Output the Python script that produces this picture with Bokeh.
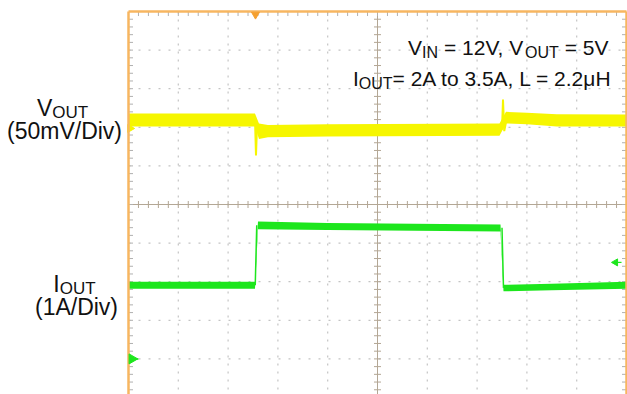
import numpy as np
from bokeh.plotting import figure
from bokeh.models import Range1d
from bokeh.core.properties import value
from bokeh.embed import file_html
from bokeh.resources import INLINE

# ---------------- data ----------------
# time axis in screen divisions (10 div across)
vout_t = [0.0, 2.54, 2.62, 2.80, 4.00, 7.45, 7.58, 8.00, 8.60, 10.0]
vout_hi_mv = [19.5, 19.5, 6.5, 4.5, 5.5, 6.5, 21.5, 20.5, 18.5, 18.0]   # mV, AC deviation
vout_lo_mv = [2.5, 2.5, -13.5, -11.5, -10.5, -9.5, 6.5, 5.5, 2.5, 2.5]
vout_edge1_t = [2.54, 2.56, 2.58, 2.62]
vout_edge1_mv = [11.5, -35.0, 1.5, -3.5]
vout_edge2_t = [7.50, 7.52, 7.545, 7.60]
vout_edge2_mv = [-1.5, 37.5, -3.5, 14.0]

iout_t = [0.0, 2.54, 2.60, 4.00, 7.47, 7.53, 8.50, 10.0]
iout_hi_a = [2.00, 2.00, 3.56, 3.52, 3.48, 1.92, 1.95, 2.00]
iout_lo_a = [1.82, 1.82, 3.36, 3.34, 3.30, 1.75, 1.78, 1.82]
iout_edge_t = [2.545, 2.575, None, 7.50, 7.53]
iout_edge_a = [1.91, 3.46, None, 3.40, 1.84]

VOUT_SCALE = 50.0      # mV / div
VOUT_OFFSET = 1.97     # div (channel 1 marker)
IOUT_SCALE = 1.0       # A / div
IOUT_OFFSET = -4.0     # div (channel 2 marker)
TRIG_T = 2.55          # div
TRIG_LEVEL_A = 2.5     # A

labels_left = [("V", "OUT", "(50mV/Div)"), ("I", "OUT", "(1A/Div)")]


def v2d(mv):
    return [VOUT_OFFSET + m / VOUT_SCALE for m in mv]


def i2d(a):
    return [np.nan if v is None else IOUT_OFFSET + v / IOUT_SCALE for v in a]


# ---------------- geometry ----------------
W, H = 627, 394
PX_X, PX_Y = 49.8, 38.6          # px per division
X0, Y0 = 128.0, 204.0            # px of left edge / centre line


def fx(rx):
    return (rx - X0) / PX_X


def fy(ry):
    return (Y0 - ry) / PX_Y


p = figure(width=W, height=H, output_backend="svg", toolbar_location=None,
           x_axis_location=None, y_axis_location=None,
           x_range=Range1d(fx(0), fx(W)), y_range=Range1d(fy(H), fy(0)),
           min_border=0)
p.outline_line_color = None
p.xgrid.visible = False
p.ygrid.visible = False
p.background_fill_color = "white"

GRID_C = "#c4c4c4"
CROSS_C = "#b3a795"
TICK_C = "#b0b0b0"
ORANGE = "#f7b660"
YELLOW = "#f6f600"
GREEN = "#1de61d"

# dotted grid
for k in range(1, 10):
    if k != 5:
        p.line([k, k], [-5, 5], line_color=GRID_C, line_width=1.2, line_dash="2 6")
for k in range(-4, 5):
    if k != 0:
        p.line([0, 10], [k, k], line_color=GRID_C, line_width=1.2, line_dash="2 8")

# centre cross
p.line([5, 5], [-5.2, 5], line_color=CROSS_C, line_width=1)
p.line([0, 10], [0, 0], line_color=CROSS_C, line_width=1)
tx = [i * 0.2 for i in range(1, 50)]
ty = [-5 + i * 0.2 for i in range(1, 50)]
hx, hy = 3.5 / PX_X, 3.5 / PX_Y
p.segment(x0=tx, y0=[-hy] * len(tx), x1=tx, y1=[hy] * len(tx), line_color=CROSS_C, line_width=1)
p.segment(x0=[5 - hx] * len(ty), y0=ty, x1=[5 + hx] * len(ty), y1=ty, line_color=CROSS_C, line_width=1)
# edge ticks
ex, ey = 4.5 / PX_X, 4.5 / PX_Y
p.segment(x0=[0] * len(ty), y0=ty, x1=[ex] * len(ty), y1=ty, line_color=TICK_C, line_width=1)
p.segment(x0=[10] * len(ty), y0=ty, x1=[10 - ex] * len(ty), y1=ty, line_color=TICK_C, line_width=1)
p.segment(x0=tx, y0=[5] * len(tx), x1=tx, y1=[5 - ey] * len(tx), line_color=TICK_C, line_width=1)

# channel 1 marker (mostly hidden behind the frame)
p.scatter([0.03], [VOUT_OFFSET], marker="triangle", angle=-np.pi / 2, size=8, color=YELLOW)

# VOUT trace
p.varea(x=vout_t, y1=v2d(vout_lo_mv), y2=v2d(vout_hi_mv), fill_color=YELLOW)
p.line(vout_edge1_t, v2d(vout_edge1_mv), line_color=YELLOW, line_width=2)
p.line(vout_edge2_t, v2d(vout_edge2_mv), line_color=YELLOW, line_width=2)

# IOUT trace
p.varea(x=iout_t, y1=i2d(iout_lo_a), y2=i2d(iout_hi_a), fill_color=GREEN)
p.line(iout_edge_t, i2d(iout_edge_a), line_color=GREEN, line_width=1.5)

# orange frame (left, top, right)
p.line([0, 0], [-6, 5], line_color=ORANGE, line_width=2.5)
p.line([0, 10], [5, 5], line_color=ORANGE, line_width=2.5)
p.line([10, 10], [-6, 5], line_color=ORANGE, line_width=2.5)

# trigger position marker
p.scatter([TRIG_T], [5 - 3 / PX_Y], marker="inverted_triangle", size=8, color="#f5a030")
# channel 2 ground marker and trigger level marker
p.scatter([0.07], [IOUT_OFFSET], marker="triangle", angle=-np.pi / 2, size=10, color=GREEN)
p.line([0.1, 0.2], [IOUT_OFFSET, IOUT_OFFSET], line_color=GREEN, line_width=1.5)
p.scatter([9.78], i2d([TRIG_LEVEL_A]), marker="triangle", angle=np.pi / 2, size=7, color=GREEN)
p.line([9.8, 9.9], i2d([TRIG_LEVEL_A, TRIG_LEVEL_A]), line_color=GREEN, line_width=1.2)

# ---------------- text ----------------
NB = "\u00a0"
ARIAL = {" ": 278, NB: 278, "(": 333, ")": 333, ",": 278, ".": 278, "/": 278, "=": 584,
         "A": 667, "D": 722, "H": 722, "I": 278, "L": 556, "N": 722, "O": 778,
         "T": 611, "U": 722, "V": 667, "i": 222, "m": 833, "o": 556, "t": 278,
         "v": 500, "\u03bc": 576}
FONT = "Liberation Sans"


def tw(s, size):
    return sum(ARIAL.get(c, 556) for c in s) * size / 1000.0


def rich(pieces, baseline, left=None, right=None, center=None):
    total = sum(tw(t, s) for t, s, _ in pieces)
    if left is None:
        left = right - total if right is not None else center - total / 2
    cur = left
    for t, s, sub in pieces:
        p.text(x=[fx(cur)], y=[fy(baseline + sub)], text=[t], text_font=value(FONT),
               text_font_size=f"{s}px", text_baseline="alphabetic", text_align="left",
               text_color="#111111")
        cur += tw(t, s)


M, S = 21, 16
rich([("V", M, 0), ("IN", S, 5), (NB + "= 12V, V", M, 0), ("OUT", S, 5), (NB + "= 5V", M, 0)],
     baseline=47, right=608)
rich([("I", M, 0), ("OUT", S, 5), ("= 2A to 3.5A, L = 2.2\u03bcH", M, 0)],
     baseline=78, right=612)

L, LS = 23, 17
(v1, v2, v3), (i1, i2, i3) = labels_left
rich([(v1, L, 0), (v2, LS, 5)], baseline=107, center=62)
rich([(v3, L, 0)], baseline=130, center=64)
rich([(i1, L, 0), (i2, LS, 5)], baseline=283, center=74)
rich([(i3, L, 0)], baseline=306, center=76)

open("out.html", "w").write(file_html(p, INLINE))
